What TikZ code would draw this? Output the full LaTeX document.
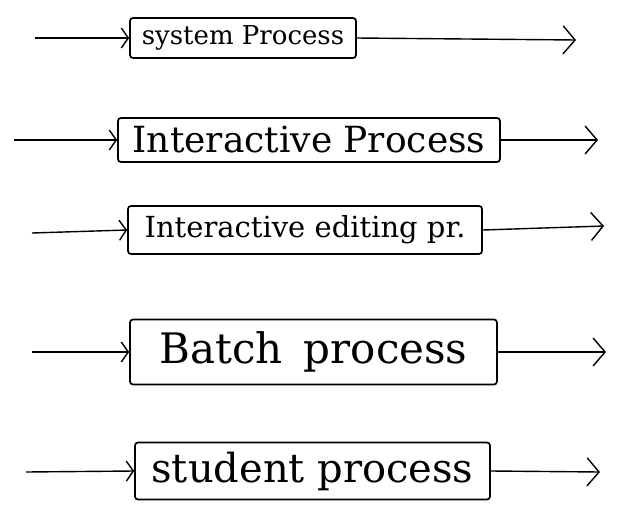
\documentclass[tikz,border=0pt]{standalone}
\usepackage{fontspec}
\setmainfont{DejaVu Serif}
\usetikzlibrary{arrows.meta}
\tikzstyle{proc} = [rectangle, rounded corners=3pt, draw=black, line width=1.7pt, inner sep=0pt, text centered]
\tikzstyle{inarrow} = [line width=1.4pt, -{Straight Barb[length=7pt,width=20pt]}]
\tikzstyle{outarrow} = [line width=1.4pt, -{Straight Barb[length=12pt,width=28pt]}]

\begin{document}
\begin{tikzpicture}[x=1pt, y=-1pt]
\useasboundingbox (0,0) rectangle (619,517);

% process boxes, top to bottom
\node [proc, minimum width=226pt, minimum height=40pt, font=\fontsize{26}{28}\selectfont] (sys) at (243,38) {system Process};
\node [proc, minimum width=382pt, minimum height=44pt, font=\fontsize{36}{38}\selectfont] (inter) at (309,140) {Interactive Process};
\node [proc, minimum width=354pt, minimum height=48pt, font=\fontsize{29}{31}\selectfont] (edit) at (305,230) {Interactive editing pr.};
\node [proc, minimum width=367pt, minimum height=65pt, font=\fontsize{42}{44}\selectfont] (batch) at (313.5,352) {Batch\enspace process};
\node [proc, minimum width=355pt, minimum height=57pt, font=\fontsize{40}{42}\selectfont] (student) at (312.5,471) {student process};

% free ends of the arrows
\coordinate (sys_in) at (35,38);
\coordinate (sys_out) at (576,40);
\coordinate (inter_in) at (14,140);
\coordinate (inter_out) at (598,140);
\coordinate (edit_in) at (32,233);
\coordinate (edit_out) at (604,226);
\coordinate (batch_in) at (32,352);
\coordinate (batch_out) at (606,352);
\coordinate (student_in) at (26,472);
\coordinate (student_out) at (600,472);

\draw [inarrow] (sys_in) -- (sys.west);
\draw [outarrow] (sys.east) -- (sys_out);
\draw [inarrow] (inter_in) -- (inter.west);
\draw [outarrow] (inter.east) -- (inter_out);
\draw [inarrow] (edit_in) -- (edit.west);
\draw [outarrow] (edit.east) -- (edit_out);
\draw [inarrow] (batch_in) -- (batch.west);
\draw [outarrow] (batch.east) -- (batch_out);
\draw [inarrow] (student_in) -- (student.west);
\draw [outarrow] (student.east) -- (student_out);

\end{tikzpicture}
\end{document}
